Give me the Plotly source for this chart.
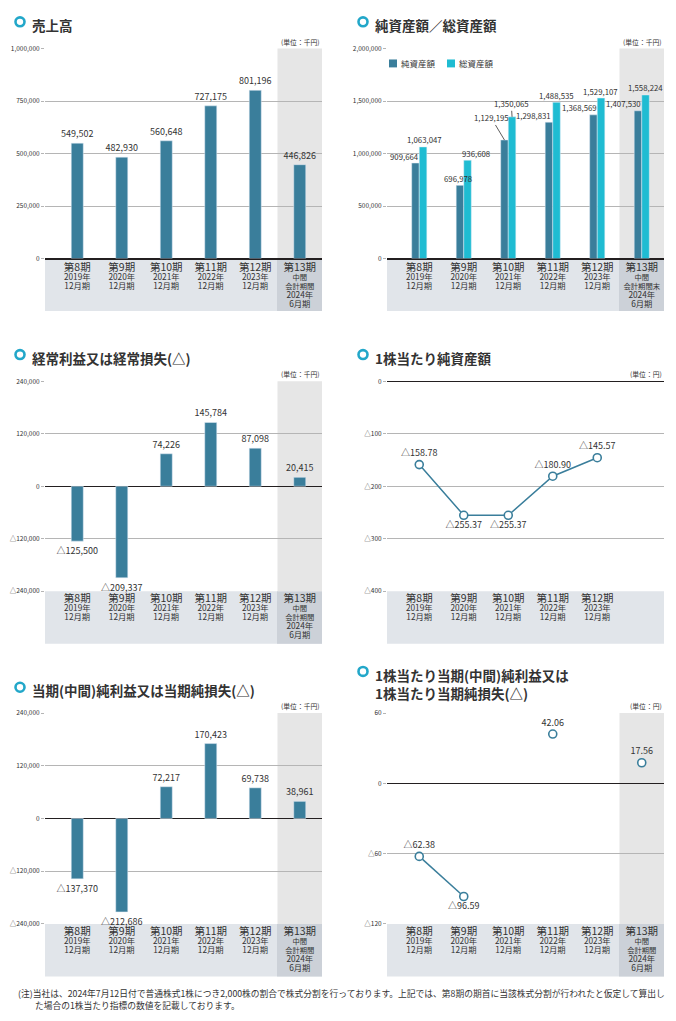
import plotly.graph_objects as go

W, H = 676, 1021

# ---------------- data ----------------
periods = ["第8期", "第9期", "第10期", "第11期", "第12期", "第13期"]
years = ["2019年", "2020年", "2021年", "2022年", "2023年", "2024年"]
months = ["12月期", "12月期", "12月期", "12月期", "12月期", "6月期"]

sales = [549502, 482930, 560648, 727175, 801196, 446826]
net_assets = [909664, 696978, 1129195, 1298831, 1368569, 1407530]
total_assets = [1063047, 936608, 1350065, 1488535, 1529107, 1558224]
ordinary_income = [-125500, -209337, 74226, 145784, 87098, 20415]
bps = [-158.78, -255.37, -255.37, -180.90, -145.57]
net_income = [-137370, -212686, 72217, 170423, 69738, 38961]
eps = [-62.38, -96.59, None, 42.06, None, 17.56]

titles = ["売上高", "純資産額／総資産額", "経常利益又は経常損失(△)", "1株当たり純資産額",
          "当期(中間)純利益又は当期純損失(△)", "1株当たり当期(中間)純利益又は<br>1株当たり当期純損失(△)"]
units = ["(単位：千円)", "(単位：千円)", "(単位：千円)", "(単位：円)", "(単位：千円)", "(単位：円)"]

ytick_vals = {
    1: [0, 250000, 500000, 750000, 1000000],
    2: [0, 500000, 1000000, 1500000, 2000000],
    3: [-240000, -120000, 0, 120000, 240000],
    4: [-400, -300, -200, -100, 0],
    5: [-240000, -120000, 0, 120000, 240000],
    6: [-120, -60, 0, 60],
}
yranges = {1: [0, 1000000], 2: [0, 2000000], 3: [-240000, 240000],
           4: [-400, 0], 5: [-240000, 240000], 6: [-120, 60]}

note1 = "(注)当社は、2024年7月12日付で普通株式1株につき2,000株の割合で株式分割を行っております。上記では、第8期の期首に当該株式分割が行われたと仮定して算出し"
note2 = "た場合の1株当たり指標の数値を記載しております。"

# ---------------- styles ----------------
TEAL = "#3a7e9b"
CYAN = "#1fbcd2"
ICON = "#22a7c9"
TXT = "#333333"
GRID = "#b5b5b5"
FONT = "Noto Sans CJK JP"

# panel pixel geometry (plot left, right, top, bottom)
geo = {
    1: (45, 322, 43, 255),
    2: (387, 664, 43, 255),
    3: (45, 322, 379, 591),
    4: (387, 664, 379, 591),
    5: (45, 322, 714, 927),
    6: (387, 664, 714, 927),
}
title_pos = {1: (20, 16), 2: (363, 16), 3: (20, 352), 4: (363, 352), 5: (20, 688), 6: (363, 672)}
BAND_H = 53
SHADE_W = 45

# label nudges for 純資産額/総資産額 chart (pixels, relative to category center / bar top)
net_nudge = [(-15, -7, False), (-6, -7, False), (-17, -22, True), (-19, -7, False), (-18, -7, False), (-18, -7, False)]
tot_nudge = [(5, -7, False), (12, -7, False), (3, -13, True), (4, -7, False), (3, -7, False), (4, -7, False)]


def px(x):
    return x / W


def py(y):
    return 1 - y / H


def fmt(v, dec=0):
    if v is None:
        return ""
    s = f"{abs(v):,.{dec}f}"
    return ("△" + s) if v < 0 else s


def cat_labels(kind):
    out = []
    for i, p in enumerate(periods):
        if i < 5:
            out.append(f"<span style='font-size:10.5px'>{p}</span><br>"
                       f"<span style='font-size:8.3px'>{years[i]}</span><br>"
                       f"<span style='font-size:8.3px'>{months[i]}</span>")
        elif kind is None:
            out.append("")
        else:
            out.append(f"<span style='font-size:10.5px'>{p}</span><br>"
                       f"<span style='font-size:7.3px'>中間</span><br>"
                       f"<span style='font-size:7.3px'>{kind}</span><br>"
                       f"<span style='font-size:8.3px'>{years[i]}</span><br>"
                       f"<span style='font-size:8.3px'>{months[i]}</span>")
    return out


fig = go.Figure()

# ---------------- traces ----------------
bar_common = dict(textposition="outside", cliponaxis=False, constraintext="none",
                  textfont=dict(size=9, color=TXT, family=FONT), hoverinfo="skip")

fig.add_trace(go.Bar(x=periods, y=sales, marker_color=TEAL, width=0.27,
                     text=[fmt(v) for v in sales], xaxis="x", yaxis="y", **bar_common))

fig.add_trace(go.Bar(x=periods, y=net_assets, marker_color=TEAL, width=0.17, offset=-0.17,
                     xaxis="x2", yaxis="y2", name="純資産額", hoverinfo="skip"))
fig.add_trace(go.Bar(x=periods, y=total_assets, marker_color=CYAN, width=0.17, offset=0,
                     xaxis="x2", yaxis="y2", name="総資産額", hoverinfo="skip"))

fig.add_trace(go.Bar(x=periods, y=ordinary_income, marker_color=TEAL, width=0.27,
                     text=[fmt(v) for v in ordinary_income], xaxis="x3", yaxis="y3", **bar_common))

bps_pos = ["top center" if v > -200 else "bottom center" for v in bps]
fig.add_trace(go.Scatter(x=periods[:5], y=bps, mode="lines+markers+text",
                         line=dict(color=TEAL, width=1.5),
                         marker=dict(symbol="circle", size=8, color="white", line=dict(color=TEAL, width=1.6)),
                         text=[fmt(v, 2) for v in bps], textposition=bps_pos,
                         textfont=dict(size=9, color=TXT, family=FONT), cliponaxis=False,
                         xaxis="x4", yaxis="y4", hoverinfo="skip"))

fig.add_trace(go.Bar(x=periods, y=net_income, marker_color=TEAL, width=0.27,
                     text=[fmt(v) for v in net_income], xaxis="x5", yaxis="y5", **bar_common))

eps_pos = ["bottom center" if (v is not None and v < -80) else "top center" for v in eps]
fig.add_trace(go.Scatter(x=periods, y=eps, mode="lines+markers+text", connectgaps=False,
                         line=dict(color=TEAL, width=1.5),
                         marker=dict(symbol="circle", size=8, color="white", line=dict(color=TEAL, width=1.6)),
                         text=[fmt(v, 2) for v in eps], textposition=eps_pos,
                         textfont=dict(size=9, color=TXT, family=FONT), cliponaxis=False,
                         xaxis="x6", yaxis="y6", hoverinfo="skip"))

# ---------------- axes ----------------
layout_axes = {}
shapes = []
annotations = []
for n in range(1, 7):
    x0, x1, yt, yb = geo[n]
    sfx = "" if n == 1 else str(n)
    kind = "会計期間末" if n == 2 else (None if n == 4 else "会計期間")
    layout_axes[f"xaxis{sfx}"] = dict(
        domain=[px(x0), px(x1)], anchor=f"y{sfx}", type="category",
        categoryorder="array", categoryarray=periods,
        tickvals=periods, ticktext=cat_labels(kind),
        range=[-0.725, 5.5], showgrid=False, zeroline=False, ticks="",
        ticklabelstandoff=3,
        tickfont=dict(size=6.9, color=TXT, family=FONT),
        showline=(n in (1, 2)), linecolor="#231f20", linewidth=1.2,
        fixedrange=True,
    )
    tv = ytick_vals[n]
    layout_axes[f"yaxis{sfx}"] = dict(
        domain=[py(yb), py(yt)], anchor=f"x{sfx}", range=yranges[n],
        tickvals=tv, ticktext=[fmt(v) for v in tv],
        showgrid=True, gridcolor=GRID, gridwidth=1,
        zeroline=True, zerolinecolor="#231f20", zerolinewidth=1.2,
        ticks="outside", ticklen=3, tickcolor=GRID, tickwidth=1,
        tickfont=dict(size=6.5, color=TXT, family=FONT),
        showline=False, fixedrange=True,
    )
    # category band
    shapes.append(dict(type="rect", xref="paper", yref="paper", x0=px(x0), x1=px(x1),
                       y0=py(yb + BAND_H), y1=py(yb), fillcolor="#e1e5ea", line=dict(width=0), layer="below"))
    if n != 4:
        shapes.append(dict(type="rect", xref="paper", yref="paper", x0=px(x1 - SHADE_W), x1=px(x1),
                           y0=py(yb + BAND_H), y1=py(yb), fillcolor="#ccd1d8", line=dict(width=0), layer="below"))
        shapes.append(dict(type="rect", xref=f"x{sfx}", yref=f"y{sfx} domain", x0=4.5, x1=5.5,
                           y0=0, y1=1, fillcolor="#e6e6e6", line=dict(width=0), layer="below"))
    # title icon + title
    cx, cy = title_pos[n]
    shapes.append(dict(type="circle", xref="paper", yref="paper", x0=px(cx - 4.5), x1=px(cx + 4.5),
                       y0=py(cy + 4.5), y1=py(cy - 4.5), line=dict(color=ICON, width=2.6)))
    tl = titles[n - 1]
    annotations.append(dict(xref="paper", yref="paper", x=px(cx + 10), y=py(cy - 9), xanchor="left",
                            yanchor="top", text=f"<b>{tl}</b>", showarrow=False, align="left",
                            font=dict(size=13.5, color=TXT, family=FONT)))
    # unit
    annotations.append(dict(xref="paper", yref="paper", x=px(x1), y=py(yt - 7), xanchor="right",
                            yanchor="middle", text=units[n - 1], showarrow=False,
                            font=dict(size=6.8, color=TXT, family=FONT)))

# labels for 純資産額 / 総資産額
for i, p in enumerate(periods):
    for vals, nudge, bar_dx in ((net_assets, net_nudge, -3.8), (total_assets, tot_nudge, 3.8)):
        dx, dy, leader = nudge[i]
        if leader:
            annotations.append(dict(xref="x2", yref="y2", x=p, y=vals[i], xshift=bar_dx,
                                    text=fmt(vals[i]), showarrow=True, arrowhead=0, arrowwidth=0.8,
                                    arrowcolor=TXT, ax=dx - bar_dx, ay=dy, standoff=0,
                                    font=dict(size=7.8, color=TXT, family=FONT)))
        else:
            annotations.append(dict(xref="x2", yref="y2", x=p, y=vals[i], xshift=dx, yshift=-dy,
                                    yanchor="middle", text=fmt(vals[i]), showarrow=False,
                                    font=dict(size=7.8, color=TXT, family=FONT)))

# manual legend for chart 2
for (lx, col, name) in ((389, TEAL, "純資産額"), (447, CYAN, "総資産額")):
    shapes.append(dict(type="rect", xref="paper", yref="paper", x0=px(lx), x1=px(lx + 8),
                       y0=py(62), y1=py(54), fillcolor=col, line=dict(width=0)))
    annotations.append(dict(xref="paper", yref="paper", x=px(lx + 10), y=py(58), xanchor="left",
                            yanchor="middle", text=name, showarrow=False,
                            font=dict(size=8.5, color=TXT, family=FONT)))

# footnote
annotations.append(dict(xref="paper", yref="paper", x=px(16), y=py(997), xanchor="left", yanchor="middle",
                        text=note1, showarrow=False, font=dict(size=8.75, color=TXT, family=FONT)))
annotations.append(dict(xref="paper", yref="paper", x=px(33), y=py(1009), xanchor="left", yanchor="middle",
                        text=note2, showarrow=False, font=dict(size=8.75, color=TXT, family=FONT)))

fig.update_layout(
    width=W, height=H, margin=dict(l=0, r=0, t=0, b=0),
    paper_bgcolor="white", plot_bgcolor="rgba(0,0,0,0)",
    showlegend=False, barmode="overlay",
    font=dict(family=FONT, color=TXT),
    shapes=shapes, annotations=annotations,
    **layout_axes,
)

fig.write_html("out.html")
